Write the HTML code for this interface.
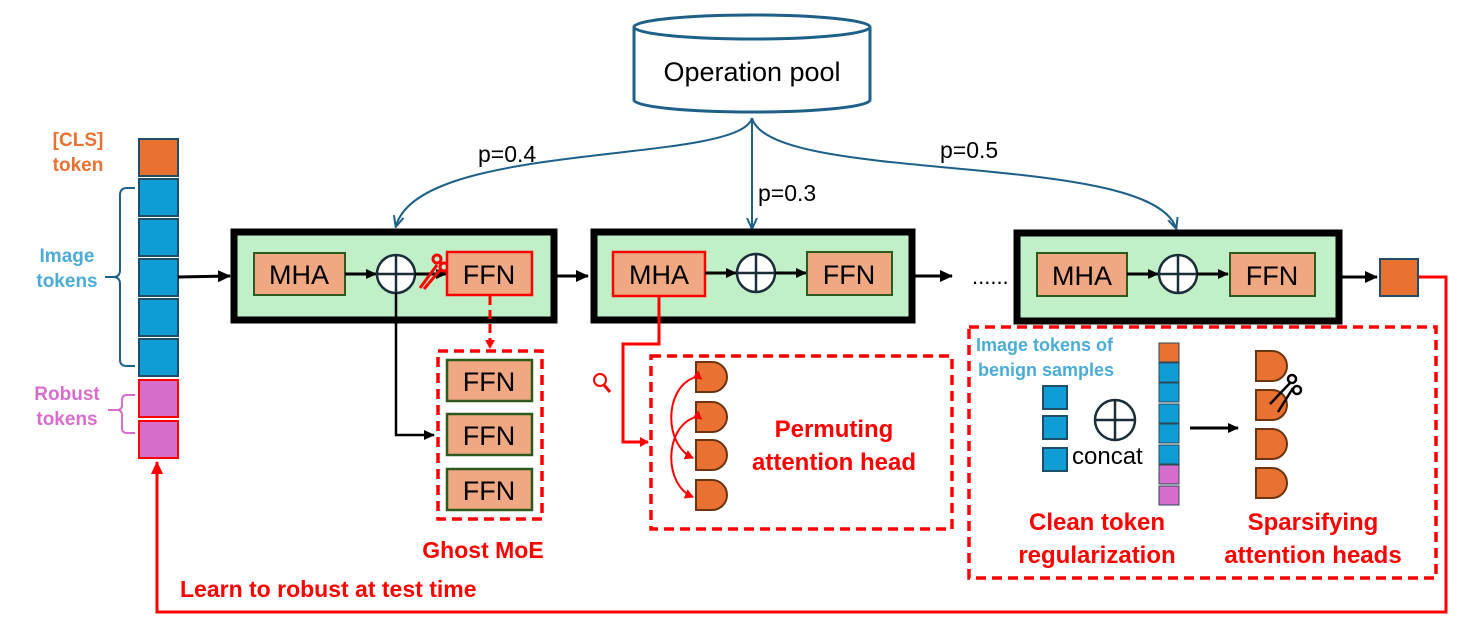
<!DOCTYPE html>
<html><head><meta charset="utf-8"><style>
html,body{margin:0;padding:0;background:#fff;}
svg{display:block;font-family:"Liberation Sans",sans-serif;}
</style></head><body>
<svg width="1462" height="638" viewBox="0 0 1462 638" xmlns="http://www.w3.org/2000/svg">
<defs>
<marker id="ab" markerWidth="12" markerHeight="12" refX="10" refY="6" orient="auto" markerUnits="userSpaceOnUse"><path d="M0,1 L11,6 L0,11 z" fill="#000"/></marker>
<marker id="abb" markerWidth="14" markerHeight="14" refX="12" refY="7" orient="auto" markerUnits="userSpaceOnUse"><path d="M0,1 L13,7 L0,13 z" fill="#000"/></marker>
<marker id="at" markerWidth="12" markerHeight="12" refX="10" refY="6" orient="auto" markerUnits="userSpaceOnUse"><path d="M0,1 L11,6 L0,11" fill="none" stroke="#1f6088" stroke-width="2"/></marker>
<marker id="ar" markerWidth="14" markerHeight="14" refX="12" refY="7" orient="auto" markerUnits="userSpaceOnUse"><path d="M0,1 L13,7 L0,13 z" fill="#f00"/></marker>
<marker id="ars" markerWidth="10" markerHeight="10" refX="8" refY="5" orient="auto" markerUnits="userSpaceOnUse"><path d="M0,0 L9,5 L0,10 z" fill="#f00"/></marker>
<g id="head"><path d="M0,0 H16 A15,15 0 0 1 16,30 H0 Z" fill="#e97132" stroke="#6b3510" stroke-width="2"/></g>
</defs>

<!-- Operation pool cylinder -->
<path d="M634,27 V100 A118,12 0 0 0 870,100 V27" fill="#fff" stroke="#1f6088" stroke-width="3"/>
<ellipse cx="752" cy="27" rx="118" ry="12" fill="#fff" stroke="#1f6088" stroke-width="3"/>
<text x="752" y="81" font-size="27" text-anchor="middle">Operation pool</text>

<!-- connectors from pool -->
<path d="M752,118 C740,165 420,140 396,226" fill="none" stroke="#1f6088" stroke-width="2" marker-end="url(#at)"/>
<path d="M752,118 V228" fill="none" stroke="#1f6088" stroke-width="2" marker-end="url(#at)"/>
<path d="M752,118 C770,185 1150,150 1176,228" fill="none" stroke="#1f6088" stroke-width="2" marker-end="url(#at)"/>
<text x="478" y="162" font-size="23">p=0.4</text>
<text x="758" y="201" font-size="23">p=0.3</text>
<text x="940" y="158" font-size="23">p=0.5</text>

<!-- left labels -->
<text x="78" y="146" font-size="19" fill="#e97132" text-anchor="middle" font-weight="bold">[CLS]</text>
<text x="78" y="171" font-size="19" fill="#e97132" text-anchor="middle" font-weight="bold">token</text>
<text x="67" y="262" font-size="19" fill="#4bacd6" text-anchor="middle" font-weight="bold">Image</text>
<text x="67" y="287" font-size="19" fill="#4bacd6" text-anchor="middle" font-weight="bold">tokens</text>
<text x="67" y="400" font-size="19" fill="#d86ecc" text-anchor="middle" font-weight="bold">Robust</text>
<text x="67" y="425" font-size="19" fill="#d86ecc" text-anchor="middle" font-weight="bold">tokens</text>
<path d="M135,188 H127 Q120,188 120,195 V270 Q120,277 113,277 H105 M113,277 Q120,277 120,284 V360 Q120,366 127,366 H135" fill="none" stroke="#1f6088" stroke-width="2"/>
<path d="M135,395 H127 Q122,395 122,400 V405 Q122,410 117,410 H108 M117,410 Q122,410 122,415 V428 Q122,433 127,433 H135" fill="none" stroke="#d86ecc" stroke-width="2"/>

<!-- token column -->
<rect x="139" y="139" width="39" height="37" fill="#e97132" stroke="#1f4e6b" stroke-width="2"/>
<rect x="139" y="179" width="39" height="37" fill="#109dd5" stroke="#1f4e6b" stroke-width="2"/>
<rect x="139" y="219" width="39" height="37" fill="#109dd5" stroke="#1f4e6b" stroke-width="2"/>
<rect x="139" y="259" width="39" height="37" fill="#109dd5" stroke="#1f4e6b" stroke-width="2"/>
<rect x="139" y="299" width="39" height="37" fill="#109dd5" stroke="#1f4e6b" stroke-width="2"/>
<rect x="139" y="339" width="39" height="37" fill="#109dd5" stroke="#1f4e6b" stroke-width="2"/>
<rect x="139" y="380" width="39" height="37" fill="#d86ecc" stroke="#f00" stroke-width="2"/>
<rect x="139" y="421" width="39" height="37" fill="#d86ecc" stroke="#f00" stroke-width="2"/>
<line x1="178" y1="277" x2="230" y2="276" stroke="#000" stroke-width="3" marker-end="url(#abb)"/>

<!-- Block 1 -->
<rect x="234" y="232" width="320" height="88" fill="#c1efc8" stroke="#000" stroke-width="7"/>
<rect x="254" y="253" width="91" height="42" fill="#f0a882" stroke="#2f5a1e" stroke-width="2"/>
<text x="299" y="284" font-size="27" text-anchor="middle">MHA</text>
<line x1="345" y1="274" x2="376" y2="274" stroke="#000" stroke-width="3" marker-end="url(#ab)"/>
<circle cx="396" cy="274" r="19" fill="#fff" stroke="#1a2e3a" stroke-width="2.5"/>
<path d="M377,274 H415 M396,255 V293" stroke="#1a2e3a" stroke-width="2.5"/>
<line x1="415" y1="274" x2="446" y2="274" stroke="#000" stroke-width="3" marker-end="url(#ab)"/>
<!-- red scissors -->
<g stroke="#f00" fill="none" stroke-width="3">
<path d="M420,288 L437,265"/><path d="M424,289 L440,270" />
<circle cx="437" cy="259" r="4"/><circle cx="444" cy="267" r="4"/>
</g>
<rect x="447" y="252" width="85" height="43" fill="#f0a882" stroke="#f00" stroke-width="2.5"/>
<text x="489" y="284" font-size="27" text-anchor="middle">FFN</text>
<line x1="557" y1="276" x2="588" y2="276" stroke="#000" stroke-width="3" marker-end="url(#abb)"/>
<path d="M396,293 V435 H434" fill="none" stroke="#000" stroke-width="2.5" marker-end="url(#ab)"/>
<path d="M490,296 V348" fill="none" stroke="#f00" stroke-width="3" stroke-dasharray="9,5" marker-end="url(#ars)"/>

<!-- Ghost MoE -->
<rect x="438" y="351" width="104" height="168" fill="none" stroke="#f00" stroke-width="3.5" stroke-dasharray="10,6"/>
<rect x="447" y="360" width="85" height="41" fill="#f0a882" stroke="#2f5a1e" stroke-width="2.5"/>
<text x="489" y="391" font-size="27" text-anchor="middle">FFN</text>
<rect x="447" y="414" width="85" height="41" fill="#f0a882" stroke="#2f5a1e" stroke-width="2.5"/>
<text x="489" y="445" font-size="27" text-anchor="middle">FFN</text>
<rect x="447" y="469" width="85" height="41" fill="#f0a882" stroke="#2f5a1e" stroke-width="2.5"/>
<text x="489" y="500" font-size="27" text-anchor="middle">FFN</text>
<text x="483" y="558" font-size="23" fill="#f00" text-anchor="middle" font-weight="bold">Ghost MoE</text>

<!-- Block 2 -->
<rect x="594" y="232" width="318" height="88" fill="#c1efc8" stroke="#000" stroke-width="7"/>
<rect x="613" y="252" width="92" height="44" fill="#f0a882" stroke="#f00" stroke-width="2.5"/>
<text x="659" y="284" font-size="27" text-anchor="middle">MHA</text>
<line x1="705" y1="273" x2="736" y2="273" stroke="#000" stroke-width="3" marker-end="url(#ab)"/>
<circle cx="756" cy="273" r="19" fill="#fff" stroke="#1a2e3a" stroke-width="2.5"/>
<path d="M737,273 H775 M756,254 V292" stroke="#1a2e3a" stroke-width="2.5"/>
<line x1="775" y1="273" x2="806" y2="273" stroke="#000" stroke-width="3" marker-end="url(#ab)"/>
<rect x="807" y="252" width="85" height="43" fill="#f0a882" stroke="#2f5a1e" stroke-width="2"/>
<text x="849" y="284" font-size="27" text-anchor="middle">FFN</text>
<line x1="915" y1="276" x2="952" y2="276" stroke="#000" stroke-width="3" marker-end="url(#abb)"/>
<path d="M659,296 V344 H623 V442 H648" fill="none" stroke="#f00" stroke-width="3" marker-end="url(#ars)"/>
<circle cx="600" cy="380" r="6" fill="none" stroke="#f00" stroke-width="2"/>
<line x1="604" y1="385" x2="610" y2="392" stroke="#f00" stroke-width="3"/>

<!-- Permuting box -->
<rect x="651" y="356" width="301" height="173" fill="none" stroke="#f00" stroke-width="3.5" stroke-dasharray="10,6"/>
<use href="#head" x="696" y="362"/>
<use href="#head" x="696" y="402"/>
<use href="#head" x="696" y="440"/>
<use href="#head" x="696" y="480"/>
<path d="M693,378 C664,390 664,445 693,458" fill="none" stroke="#f00" stroke-width="2" marker-start="url(#ars)" marker-end="url(#ars)"/>
<path d="M693,418 C664,430 664,485 693,497" fill="none" stroke="#f00" stroke-width="2" marker-start="url(#ars)" marker-end="url(#ars)"/>
<text x="834" y="437" font-size="24" fill="#f00" text-anchor="middle" font-weight="bold">Permuting</text>
<text x="834" y="470" font-size="24" fill="#f00" text-anchor="middle" font-weight="bold">attention head</text>

<text x="972" y="284" font-size="22">......</text>

<!-- Block 3 -->
<rect x="1017" y="233" width="322" height="88" fill="#c1efc8" stroke="#000" stroke-width="7"/>
<rect x="1037" y="253" width="90" height="43" fill="#f0a882" stroke="#2f5a1e" stroke-width="2"/>
<text x="1082" y="285" font-size="27" text-anchor="middle">MHA</text>
<line x1="1127" y1="274" x2="1158" y2="274" stroke="#000" stroke-width="3" marker-end="url(#ab)"/>
<circle cx="1178" cy="274" r="19" fill="#fff" stroke="#1a2e3a" stroke-width="2.5"/>
<path d="M1159,274 H1197 M1178,255 V293" stroke="#1a2e3a" stroke-width="2.5"/>
<line x1="1197" y1="274" x2="1228" y2="274" stroke="#000" stroke-width="3" marker-end="url(#ab)"/>
<rect x="1230" y="253" width="85" height="43" fill="#f0a882" stroke="#2f5a1e" stroke-width="2"/>
<text x="1272" y="285" font-size="27" text-anchor="middle">FFN</text>
<line x1="1342" y1="277" x2="1377" y2="277" stroke="#000" stroke-width="3" marker-end="url(#abb)"/>
<rect x="1380" y="259" width="38" height="37" fill="#e97132" stroke="#1f4e6b" stroke-width="2"/>

<!-- feedback loop -->
<path d="M1419,277 H1446 V612 H157 V462" fill="none" stroke="#f00" stroke-width="3" marker-end="url(#ar)"/>
<text x="180" y="597" font-size="23" fill="#f00" font-weight="bold">Learn to robust at test time</text>

<!-- Right dashed box -->
<rect x="969" y="327" width="467" height="251" fill="none" stroke="#f00" stroke-width="3.5" stroke-dasharray="10,6"/>
<text x="976" y="351" font-size="18" fill="#4bacd6" font-weight="bold">Image tokens of</text>
<text x="978" y="376" font-size="18" fill="#4bacd6" font-weight="bold">benign samples</text>
<rect x="1043" y="386" width="24" height="23" fill="#109dd5" stroke="#1f4e6b" stroke-width="2"/>
<rect x="1043" y="416" width="24" height="23" fill="#109dd5" stroke="#1f4e6b" stroke-width="2"/>
<rect x="1043" y="448" width="24" height="23" fill="#109dd5" stroke="#1f4e6b" stroke-width="2"/>
<circle cx="1115" cy="420" r="20" fill="#fff" stroke="#1a2e3a" stroke-width="2.5"/>
<path d="M1095,420 H1135 M1115,400 V440" stroke="#1a2e3a" stroke-width="2.5"/>
<text x="1072" y="464" font-size="24">concat</text>
<rect x="1159" y="343" width="20" height="19" fill="#e97132" stroke="#2a4a5a" stroke-width="1"/>
<rect x="1159" y="363" width="20" height="19" fill="#109dd5" stroke="#2a4a5a" stroke-width="1"/>
<rect x="1159" y="383" width="20" height="19" fill="#109dd5" stroke="#2a4a5a" stroke-width="1"/>
<rect x="1159" y="404" width="20" height="19" fill="#109dd5" stroke="#2a4a5a" stroke-width="1"/>
<rect x="1159" y="424" width="20" height="19" fill="#109dd5" stroke="#2a4a5a" stroke-width="1"/>
<rect x="1159" y="445" width="20" height="19" fill="#109dd5" stroke="#2a4a5a" stroke-width="1"/>
<rect x="1159" y="465" width="20" height="19" fill="#d86ecc" stroke="#2a4a5a" stroke-width="1"/>
<rect x="1159" y="486" width="20" height="19" fill="#d86ecc" stroke="#2a4a5a" stroke-width="1"/>
<line x1="1190" y1="428" x2="1238" y2="428" stroke="#000" stroke-width="3" marker-end="url(#ab)"/>
<use href="#head" x="1256" y="351"/>
<use href="#head" x="1256" y="390"/>
<use href="#head" x="1256" y="429"/>
<use href="#head" x="1256" y="468"/>
<!-- black scissors -->
<g stroke="#000" fill="none" stroke-width="2.5">
<path d="M1270,404 L1291,382"/><path d="M1278,412 L1293,388"/>
<circle cx="1292" cy="379" r="4"/><circle cx="1297" cy="390" r="4"/>
</g>
<text x="1097" y="530" font-size="24" fill="#f00" text-anchor="middle" font-weight="bold">Clean token</text>
<text x="1097" y="563" font-size="24" fill="#f00" text-anchor="middle" font-weight="bold">regularization</text>
<text x="1313" y="530" font-size="24" fill="#f00" text-anchor="middle" font-weight="bold">Sparsifying</text>
<text x="1313" y="563" font-size="24" fill="#f00" text-anchor="middle" font-weight="bold">attention heads</text>
</svg>
</body></html>
